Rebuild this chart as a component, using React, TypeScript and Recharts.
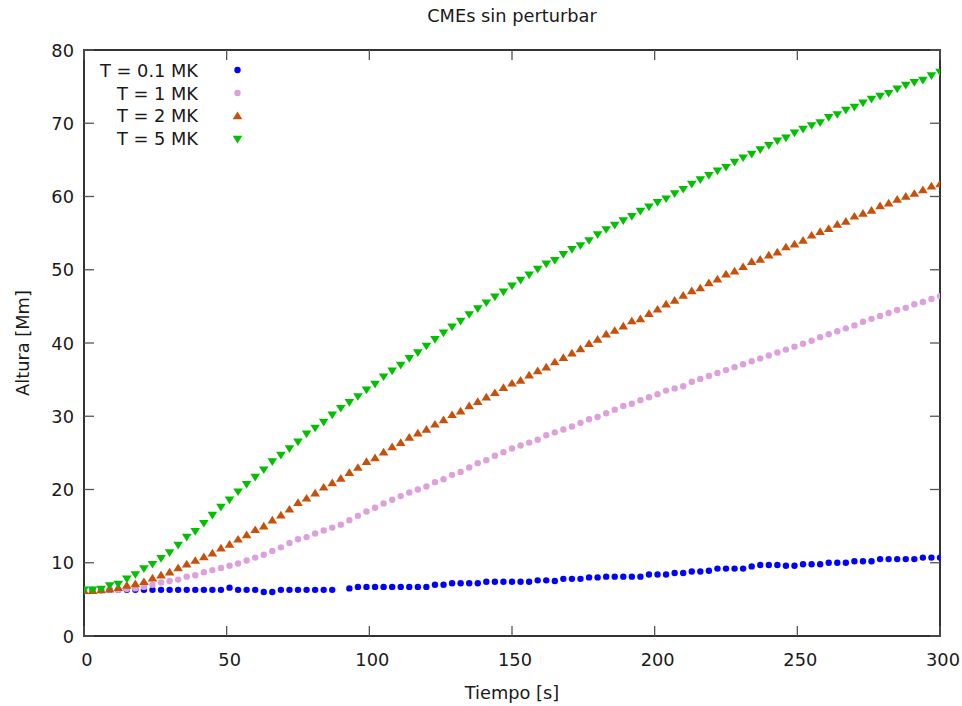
import { ReferenceArea, Scatter, ScatterChart, XAxis, YAxis } from 'recharts';

// tiempo [s], una muestra cada 3 s
const times = [
  0, 3, 6, 9, 12, 15, 18, 21, 24, 27,
  30, 33, 36, 39, 42, 45, 48, 51, 54, 57,
  60, 63, 66, 69, 72, 75, 78, 81, 84, 87,
  90, 93, 96, 99, 102, 105, 108, 111, 114, 117,
  120, 123, 126, 129, 132, 135, 138, 141, 144, 147,
  150, 153, 156, 159, 162, 165, 168, 171, 174, 177,
  180, 183, 186, 189, 192, 195, 198, 201, 204, 207,
  210, 213, 216, 219, 222, 225, 228, 231, 234, 237,
  240, 243, 246, 249, 252, 255, 258, 261, 264, 267,
  270, 273, 276, 279, 282, 285, 288, 291, 294, 297,
  300,
];

// altura [Mm] para cada temperatura
const heightT01 = [
  6.3, 6.3, 6.3, 6.3, 6.3, 6.3, 6.3, 6.3, 6.3, 6.3,
  6.3, 6.3, 6.3, 6.3, 6.3, 6.3, 6.3, 6.6, 6.3, 6.3,
  6.3, 6.0, 6.0, 6.3, 6.3, 6.3, 6.3, 6.3, 6.3, 6.3,
  null, 6.5, 6.7, 6.7, 6.7, 6.7, 6.7, 6.7, 6.7, 6.7,
  6.7, 7.0, 7.0, 7.2, 7.2, 7.2, 7.2, 7.4, 7.4, 7.4,
  7.4, 7.4, 7.4, 7.6, 7.6, 7.5, 7.8, 7.8, 7.8, 8.0,
  8.0, 8.1, 8.1, 8.1, 8.1, 8.1, 8.4, 8.4, 8.4, 8.6,
  8.6, 8.8, 8.8, 8.9, 9.2, 9.2, 9.2, 9.2, 9.5, 9.7,
  9.7, 9.7, 9.6, 9.6, 9.8, 9.8, 9.8, 10.0, 10.0, 10.0,
  10.2, 10.2, 10.2, 10.5, 10.5, 10.5, 10.5, 10.5, 10.7, 10.7,
  10.7,
];

const heightT1 = [
  6.2, 6.2, 6.2, 6.3, 6.3, 6.4, 6.5, 6.7, 7.0, 7.3,
  7.5, 7.7, 8.1, 8.3, 8.7, 9.0, 9.3, 9.6, 9.9, 10.3,
  10.7, 11.1, 11.6, 12.1, 12.7, 13.2, 13.5, 14.0, 14.4, 14.8,
  15.2, 15.8, 16.4, 17.0, 17.5, 18.1, 18.6, 19.1, 19.6, 20.0,
  20.4, 21.0, 21.4, 22.0, 22.4, 23.0, 23.6, 24.0, 24.6, 25.1,
  25.6, 26.0, 26.4, 26.8, 27.4, 27.8, 28.2, 28.6, 29.1, 29.6,
  29.9, 30.4, 30.9, 31.4, 31.7, 32.2, 32.6, 33.0, 33.5, 33.8,
  34.1, 34.7, 35.1, 35.5, 35.9, 36.3, 36.7, 37.1, 37.5, 37.9,
  38.3, 38.7, 39.1, 39.5, 39.9, 40.3, 40.8, 41.2, 41.6, 42.0,
  42.4, 42.9, 43.3, 43.7, 44.1, 44.5, 44.8, 45.3, 45.6, 46.0,
  46.4,
];

const heightT2 = [
  6.2, 6.2, 6.3, 6.4, 6.6, 6.9, 7.1, 7.4, 7.9, 8.3,
  8.7, 9.3, 9.8, 10.3, 10.8, 11.3, 12.0, 12.5, 13.2, 13.8,
  14.5, 15.0, 15.8, 16.5, 17.3, 18.2, 18.8, 19.5, 20.3, 20.9,
  21.5, 22.3, 23.0, 23.8, 24.3, 25.1, 25.8, 26.4, 27.1, 27.7,
  28.2, 28.9, 29.5, 30.2, 30.7, 31.4, 32.0, 32.6, 33.2, 33.9,
  34.5, 34.9, 35.6, 36.2, 36.7, 37.4, 38.0, 38.6, 39.2, 39.9,
  40.5, 41.2, 41.7, 42.3, 43.0, 43.3, 44.0, 44.6, 45.3, 45.8,
  46.5, 47.1, 47.5, 48.2, 48.7, 49.4, 49.8, 50.4, 51.1, 51.4,
  52.0, 52.4, 53.1, 53.5, 54.0, 54.7, 55.2, 55.6, 56.2, 56.6,
  57.3, 57.7, 58.1, 58.7, 59.1, 59.6, 60.0, 60.4, 60.9, 61.4,
  61.7,
];

const heightT5 = [
  6.3, 6.3, 6.4, 6.9, 7.1, 7.8, 8.4, 9.2, 9.8, 10.6,
  11.4, 12.4, 13.5, 14.3, 15.4, 16.5, 17.6, 18.6, 19.7, 20.7,
  21.7, 22.7, 23.8, 24.7, 25.6, 26.5, 27.6, 28.4, 29.2, 30.2,
  31.1, 31.9, 32.7, 33.6, 34.4, 35.4, 36.2, 37.0, 37.9, 38.7,
  39.6, 40.5, 41.4, 42.2, 43.0, 43.9, 44.7, 45.5, 46.3, 47.0,
  47.8, 48.6, 49.3, 50.1, 50.8, 51.3, 52.1, 52.8, 53.3, 54.0,
  54.8, 55.5, 56.1, 56.7, 57.3, 58.0, 58.6, 59.2, 59.7, 60.4,
  61.0, 61.7, 62.3, 62.9, 63.5, 64.0, 64.7, 65.3, 65.8, 66.4,
  67.0, 67.6, 68.0, 68.7, 69.2, 69.7, 70.1, 70.8, 71.2, 71.8,
  72.2, 72.8, 73.3, 73.7, 74.1, 74.7, 75.2, 75.6, 75.9, 76.5,
  77.0,
];

const xTicks = [0, 50, 100, 150, 200, 250, 300];
const yTicks = [0, 10, 20, 30, 40, 50, 60, 70, 80];

type MarkerKind = 'dot' | 'up' | 'down';

type SeriesDef = {
  name: string;
  values: (number | null)[];
  color: string;
  marker: MarkerKind;
};

const series: SeriesDef[] = [
  { name: 'T = 0.1 MK', values: heightT01, color: '#0000ff', marker: 'dot' },
  { name: 'T = 1 MK', values: heightT1, color: '#dda0dd', marker: 'dot' },
  { name: 'T = 2 MK', values: heightT2, color: '#c8500a', marker: 'up' },
  { name: 'T = 5 MK', values: heightT5, color: '#00c000', marker: 'down' },
];

const W = 962;
const H = 706;
const PLOT_LEFT = 84;
const PLOT_RIGHT = 940;
const PLOT_TOP = 50;
const PLOT_BOTTOM = 636;
const TICK_LEN = 10;

const FONT = '"DejaVu Sans", sans-serif';
const FONT_SIZE = 17.8;
const TEXT = '#1a1a1a';
const FRAME = '#333';
const TICK = '#555';

function Marker({ kind, color, cx, cy }: { kind: MarkerKind; color: string; cx: number; cy: number }) {
  if (kind === 'dot') return <circle cx={cx} cy={cy} r={3.2} fill={color} />;
  if (kind === 'up') {
    return (
      <polygon points={`${cx},${cy - 4.4} ${cx + 4.8},${cy + 3.3} ${cx - 4.8},${cy + 3.3}`} fill={color} />
    );
  }
  return (
    <polygon points={`${cx - 4.8},${cy - 3.3} ${cx + 4.8},${cy - 3.3} ${cx},${cy + 4.4}`} fill={color} />
  );
}

// gnuplot-style ticks: inward, mirrored on the opposite side
function BottomTick(props: any) {
  const { x, payload } = props;
  return (
    <g>
      <line x1={x} x2={x} y1={PLOT_BOTTOM} y2={PLOT_BOTTOM - TICK_LEN} stroke={TICK} strokeWidth={1.3} />
      <line x1={x} x2={x} y1={PLOT_TOP} y2={PLOT_TOP + TICK_LEN} stroke={TICK} strokeWidth={1.3} />
      <text
        x={x + 3}
        y={PLOT_BOTTOM + 23}
        textAnchor="middle"
        dominantBaseline="central"
        fill={TEXT}
        fontSize={FONT_SIZE}
        fontFamily={FONT}
      >
        {payload.value}
      </text>
    </g>
  );
}

function LeftTick(props: any) {
  const { y, payload } = props;
  return (
    <g>
      <line x1={PLOT_LEFT} x2={PLOT_LEFT + TICK_LEN} y1={y} y2={y} stroke={TICK} strokeWidth={1.3} />
      <line x1={PLOT_RIGHT} x2={PLOT_RIGHT - TICK_LEN} y1={y} y2={y} stroke={TICK} strokeWidth={1.3} />
      <text
        x={PLOT_LEFT - 10}
        y={y}
        textAnchor="end"
        dominantBaseline="central"
        fill={TEXT}
        fontSize={FONT_SIZE}
        fontFamily={FONT}
      >
        {payload.value}
      </text>
    </g>
  );
}

function KeyBox() {
  return (
    <div style={{ position: 'absolute', left: 88, top: 59, fontFamily: FONT, fontSize: FONT_SIZE, color: TEXT }}>
      {series.map((s) => (
        <div key={s.name} style={{ display: 'flex', alignItems: 'center', height: 22.8 }}>
          <span style={{ width: 110, textAlign: 'right', whiteSpace: 'nowrap' }}>{s.name}</span>
          <svg width={60} height={22} style={{ display: 'block' }}>
            <Marker kind={s.marker} color={s.color} cx={39.5} cy={11} />
          </svg>
        </div>
      ))}
    </div>
  );
}

export default function App() {
  const midY = (PLOT_TOP + PLOT_BOTTOM) / 2;
  return (
    <div style={{ position: 'absolute', left: 0, top: 0, width: W, height: H, background: '#fff' }}>
      <div
        style={{
          position: 'absolute',
          left: PLOT_LEFT,
          width: PLOT_RIGHT - PLOT_LEFT,
          top: 5,
          textAlign: 'center',
          fontFamily: FONT,
          fontSize: FONT_SIZE,
          color: TEXT,
        }}
      >
        CMEs sin perturbar
      </div>
      <ScatterChart
        width={W}
        height={H}
        margin={{ top: PLOT_TOP, right: W - PLOT_RIGHT, bottom: H - PLOT_BOTTOM - 40, left: 0 }}
      >
        <XAxis
          type="number"
          dataKey="t"
          domain={[0, 300]}
          ticks={xTicks}
          allowDataOverflow
          height={40}
          tickSize={0}
          tickLine={false}
          axisLine={false}
          tick={<BottomTick />}
          label={{
            content: () => (
              <text
                x={(PLOT_LEFT + PLOT_RIGHT) / 2}
                y={692}
                textAnchor="middle"
                dominantBaseline="central"
                fill={TEXT}
                fontSize={FONT_SIZE}
                fontFamily={FONT}
              >
                Tiempo [s]
              </text>
            ),
          }}
        />
        <YAxis
          type="number"
          dataKey="h"
          domain={[0, 80]}
          ticks={yTicks}
          allowDataOverflow
          width={PLOT_LEFT}
          tickSize={0}
          tickLine={false}
          axisLine={false}
          tick={<LeftTick />}
          label={{
            content: () => (
              <text
                x={22}
                y={midY}
                transform={`rotate(-90 22 ${midY})`}
                textAnchor="middle"
                dominantBaseline="central"
                fill={TEXT}
                fontSize={FONT_SIZE}
                fontFamily={FONT}
              >
                Altura [Mm]
              </text>
            ),
          }}
        />
        <ReferenceArea x1={0} x2={300} y1={0} y2={80} fill="none" stroke={FRAME} strokeWidth={2} />
        {series.map((s) => (
          <Scatter
            key={s.name}
            name={s.name}
            data={times
              .map((t, i) => ({ t, h: s.values[i] }))
              .filter((p) => p.h !== null)}
            fill={s.color}
            isAnimationActive={false}
            shape={(p: any) => <Marker kind={s.marker} color={s.color} cx={p.cx} cy={p.cy} />}
          />
        ))}
      </ScatterChart>
      <KeyBox />
    </div>
  );
}
